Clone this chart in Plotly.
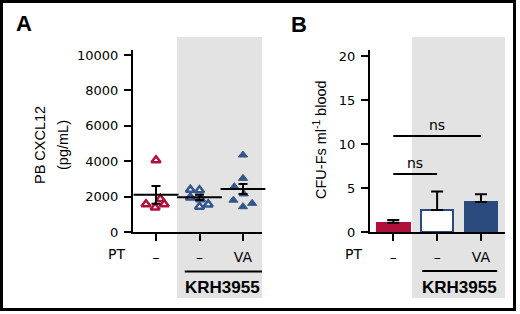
import plotly.graph_objects as go

# ---------------- data ----------------
groups = ["–", "–", "VA"]          # PT treatment tick labels
group_label = "KRH3955"

# Panel A: PB CXCL12 (pg/mL), individual mice
a_vals_ctrl = [4050, 1570, 1380, 1870, 1570]
a_vals_krh = [2380, 2360, 1950, 1850, 1430, 1560]
a_vals_krh_va = [4350, 3030, 2560, 2150, 1800, 1620, 1430]
# horizontal jitter of points (category units)
a_jit_ctrl = [0.0, -0.23, -0.02, 0.10, 0.19]
a_jit_krh = [-0.21, 0.0, -0.21, 0.02, 0.0, 0.20]
a_jit_krh_va = [0.0, 0.0, -0.20, 0.02, -0.22, 0.21, 0.0]
a_means = [2100, 1960, 2430]
a_sems = [500, 150, 280]

# Panel B: CFU-Fs per ml blood
b_means = [1.05, 2.5, 3.4]
b_sems = [0.3, 2.1, 0.9]
b_sig_pairs = [(0, 2), (0, 1)]
b_sig_heights = [10.9, 6.6]
b_sig_text = ["ns", "ns"]

a_yticks = [0, 2000, 4000, 6000, 8000, 10000]
b_yticks = [0, 5, 10, 15, 20]

# ---------------- style ----------------
W, H = 520, 314
RED = "#b0103a"
BLUE = "#33558a"
NAVY = "#2b4a7e"
GRAY = "#e3e3e3"
TICKFONT = dict(family="DejaVu Sans", size=13, color="black")
XTICKFONT = dict(family="DejaVu Sans", size=14, color="black")


def px(x):
    return x / W


def py(y):
    return 1 - y / H


fig = go.Figure()

a_sets = [
    (a_vals_ctrl, a_jit_ctrl, dict(color="white", line=dict(color=RED, width=2.5))),
    (a_vals_krh, a_jit_krh, dict(color="white", line=dict(color=BLUE, width=2.5))),
    (a_vals_krh_va, a_jit_krh_va, dict(color=BLUE, line=dict(color=BLUE, width=1))),
]
for gi, (vals, jit, mstyle) in enumerate(a_sets):
    fig.add_trace(go.Scatter(
        x=[gi + j for j in jit], y=vals, mode="markers",
        marker=dict(symbol="triangle-up", size=8, **mstyle),
        xaxis="x", yaxis="y", cliponaxis=False, hoverinfo="skip"))

fig.add_trace(go.Scatter(
    x=list(range(len(a_means))), y=a_means, mode="markers",
    marker=dict(symbol="line-ew", size=32, color="black",
                line=dict(color="black", width=2)),
    error_y=dict(type="data", array=a_sems, width=4.5, thickness=2, color="black"),
    xaxis="x", yaxis="y", cliponaxis=False, hoverinfo="skip"))

fig.add_trace(go.Bar(
    x=list(range(len(b_means))), y=b_means, width=0.74,
    marker=dict(color=[RED, "white", NAVY],
                line=dict(color=[RED, NAVY, NAVY], width=2)),
    error_y=dict(type="data", symmetric=False, array=b_sems,
                 arrayminus=[0] * len(b_sems), width=6, thickness=2, color="black"),
    xaxis="x2", yaxis="y2", hoverinfo="skip"))

axis_common = dict(showline=True, linewidth=2, linecolor="black", ticks="outside",
                   ticklen=7, tickwidth=2, tickcolor="black", showgrid=False,
                   zeroline=False, fixedrange=True, automargin=False)

ydom = [py(232), py(50)]
fig.update_layout(
    width=W, height=H, autosize=False,
    margin=dict(l=0, r=0, t=0, b=0, pad=0, autoexpand=False),
    paper_bgcolor="white", plot_bgcolor="rgba(0,0,0,0)",
    showlegend=False, bargap=0,
    xaxis=dict(domain=[px(133), px(262)], range=[-0.529, 2.437],
               tickvals=[0, 1, 2], ticktext=groups, anchor="y",
               ticklabelstandoff=4, tickfont=XTICKFONT, **axis_common),
    yaxis=dict(domain=ydom, range=[0, 10282], tickvals=a_yticks,
               ticktext=[str(v) for v in a_yticks], anchor="x",
               ticklabelstandoff=3, tickfont=TICKFONT, **axis_common),
    xaxis2=dict(domain=[px(370), px(505)], range=[-0.531, 2.548],
                tickvals=[0, 1, 2], ticktext=groups, anchor="y2",
                ticklabelstandoff=4, tickfont=XTICKFONT, **axis_common),
    yaxis2=dict(domain=ydom, range=[0, 20.68], tickvals=b_yticks,
                ticktext=[str(v) for v in b_yticks], anchor="x2",
                ticklabelstandoff=3, tickfont=TICKFONT, **axis_common),
)

shapes = []
# gray KRH3955 backgrounds
shapes.append(dict(type="rect", xref="x", yref="paper", x0=0.483, x1=2.575,
                   y0=py(298), y1=py(37), fillcolor=GRAY, line=dict(width=0), layer="below"))
shapes.append(dict(type="rect", xref="x2", yref="paper", x0=0.427, x1=2.548,
                   y0=py(298), y1=py(37), fillcolor=GRAY, line=dict(width=0), layer="below"))
# KRH3955 underline
shapes.append(dict(type="line", xref="x", yref="paper", x0=0.66, x1=2.44,
                   y0=py(271.5), y1=py(271.5), line=dict(color="black", width=2)))
shapes.append(dict(type="line", xref="x2", yref="paper", x0=0.66, x1=2.37,
                   y0=py(271), y1=py(271), line=dict(color="black", width=2)))
# significance brackets
for (s, e), h in zip(b_sig_pairs, b_sig_heights):
    shapes.append(dict(type="line", xref="x2", yref="y2", x0=s, x1=e, y0=h, y1=h,
                       line=dict(color="black", width=2)))
# outer frame
shapes.append(dict(type="rect", xref="paper", yref="paper", x0=px(1.5), x1=px(514.5),
                   y0=py(309.5), y1=py(1.5), line=dict(color="black", width=3)))
fig.update_layout(shapes=shapes)

CM = dict(showarrow=False, xanchor="center", yanchor="middle")
ann = []
for (s, e), h, t in zip(b_sig_pairs, b_sig_heights, b_sig_text):
    ann.append(dict(xref="x2", yref="y2", x=(s + e) / 2, y=h, text=t, yshift=11,
                    font=dict(family="DejaVu Sans", size=14, color="black"), **CM))
for xr, xpx in (("x", 1.54), ("x2", 1.51)):
    ann.append(dict(xref=xr, yref="paper", x=xpx, y=py(287.5), text="<b>%s</b>" % group_label,
                    font=dict(family="Liberation Sans", size=17, color="black"), **CM))
for xp in (116, 353):
    ann.append(dict(xref="paper", yref="paper", x=px(xp), y=py(254), text="PT",
                    font=XTICKFONT, **CM))
ann.append(dict(xref="paper", yref="paper", x=px(24), y=py(24), text="<b>A</b>",
                font=dict(family="Liberation Sans", size=22, color="black"), **CM))
ann.append(dict(xref="paper", yref="paper", x=px(299), y=py(25), text="<b>B</b>",
                font=dict(family="Liberation Sans", size=22, color="black"), **CM))
TITLEFONT = dict(family="Liberation Sans", size=14.5, color="black")
ann.append(dict(xref="paper", yref="paper", x=px(40), y=py(145), text="PB CXCL12",
                textangle=-90, font=TITLEFONT, **CM))
ann.append(dict(xref="paper", yref="paper", x=px(63), y=py(145), text="(pg/mL)",
                textangle=-90, font=TITLEFONT, **CM))
ann.append(dict(xref="paper", yref="paper", x=px(320), y=py(140),
                text="CFU-Fs ml<sup>-1</sup> blood",
                textangle=-90, font=TITLEFONT, **CM))
fig.update_layout(annotations=ann)

fig.write_html("out.html", config={"displayModeBar": False},
               post_script="document.body.style.margin='0';")
